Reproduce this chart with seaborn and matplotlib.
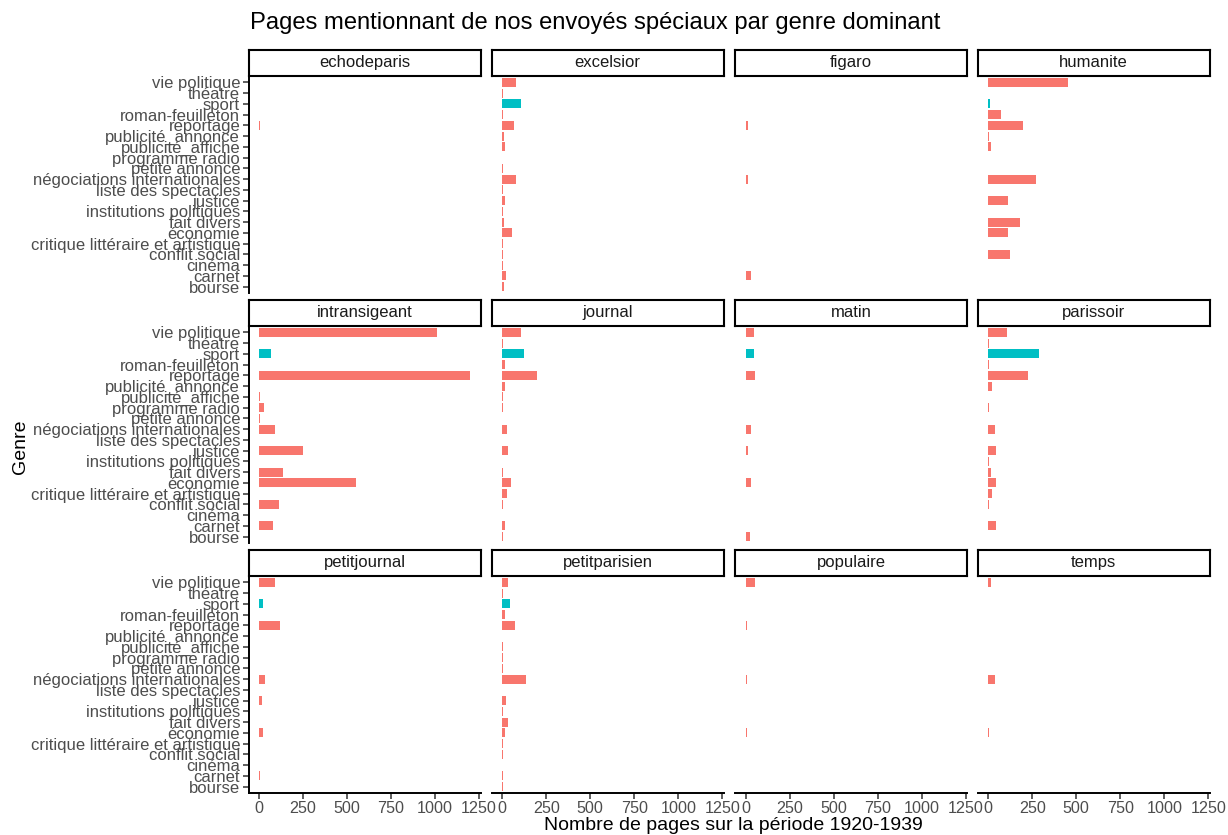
import pandas as pd
import seaborn as sns
import matplotlib.pyplot as plt

sns.set_theme(style='white')
plt.rcParams['font.family'] = ['Liberation Sans', 'DejaVu Sans']

# genres, de haut en bas
genres = ['vie politique', 'théatre', 'sport', 'roman-feuilleton', 'reportage',
          'publicité_annonce', 'publicité_affiche', 'programme radio', 'petite annonce',
          'négociations internationales', 'liste des spectacles', 'justice',
          'institutions politiques', 'fait divers', 'économie',
          'critique littéraire et artistique', 'conflit social', 'cinéma', 'carnet', 'bourse']

journaux = ['echodeparis', 'excelsior', 'figaro', 'humanite',
            'intransigeant', 'journal', 'matin', 'parissoir',
            'petitjournal', 'petitparisien', 'populaire', 'temps']

# nombre de pages par genre (même ordre que genres)
echodeparis = [0, 0, 0, 0, 3, 0, 0, 0, 0, 0, 0, 0, 0, 0, 0, 0, 0, 0, 0, 0]
excelsior = [78, 2, 108, 3, 67, 11, 17, 0, 2, 78, 2, 17, 2, 10, 54, 3, 2, 2, 24, 8]
figaro = [3, 3, 0, 0, 12, 0, 0, 0, 0, 12, 0, 0, 0, 0, 3, 3, 0, 0, 30, 3]
humanite = [452, 0, 9, 75, 195, 3, 16, 0, 0, 270, 0, 114, 0, 182, 114, 0, 123, 0, 0, 0]
intransigeant = [1010, 0, 68, 0, 1198, 0, 5, 28, 3, 89, 0, 251, 0, 136, 550, 0, 114, 0, 82, 0]
journal = [108, 3, 124, 13, 198, 13, 3, 3, 0, 27, 0, 34, 0, 4, 47, 27, 3, 0, 13, 3]
matin = [45, 0, 45, 3, 52, 3, 0, 0, 0, 30, 3, 14, 3, 3, 30, 3, 3, 0, 3, 23]
parissoir = [107, 3, 286, 3, 225, 23, 0, 4, 0, 39, 0, 45, 3, 16, 45, 23, 5, 0, 45, 0]
petitjournal = [88, 0, 23, 0, 117, 0, 0, 0, 0, 36, 0, 16, 0, 0, 23, 0, 0, 0, 5, 0]
petitparisien = [34, 3, 43, 13, 70, 0, 3, 3, 3, 137, 0, 20, 3, 34, 13, 3, 3, 0, 3, 3]
populaire = [52, 0, 0, 3, 10, 3, 0, 0, 0, 10, 3, 3, 0, 3, 10, 0, 0, 0, 3, 0]
temps = [16, 0, 0, 0, 0, 0, 0, 0, 0, 39, 0, 0, 0, 0, 4, 0, 0, 0, 0, 0]

pages = {'echodeparis': echodeparis, 'excelsior': excelsior, 'figaro': figaro,
         'humanite': humanite, 'intransigeant': intransigeant, 'journal': journal,
         'matin': matin, 'parissoir': parissoir, 'petitjournal': petitjournal,
         'petitparisien': petitparisien, 'populaire': populaire, 'temps': temps}

rows = []
for j in journaux:
    for g, v in zip(genres, pages[j]):
        rows.append({'journal': j, 'genre': g, 'pages': v})
df = pd.DataFrame(rows)

palette = {g: ('#00BFC4' if g == 'sport' else '#F8766D') for g in genres}

W, H = 1228, 835
fig = plt.figure(figsize=(W / 100, H / 100), dpi=100)

col_left = [248.5, 491.7, 735.1, 977.7]
row_top = [49.5, 299.5, 549.5]
pw, ph, sh = 232, 217, 26.5
xmax = df['pages'].max()

for i, j in enumerate(journaux):
    r, c = divmod(i, 4)
    x0 = col_left[c]
    y_panel = row_top[r] + sh
    ax = fig.add_axes([x0 / W, 1 - (y_panel + ph) / H, pw / W, ph / H])
    sns.barplot(data=df[df['journal'] == j], x='pages', y='genre', hue='genre',
                order=genres, hue_order=genres, palette=palette, dodge=False,
                legend=False, width=0.85, errorbar=None, linewidth=0, saturation=1,
                orient='h', ax=ax)
    ax.set_xlim(-0.05 * xmax, 1.05 * xmax)
    ax.set_ylim(len(genres) - 0.4, -0.6)
    ax.set_xlabel('')
    ax.set_ylabel('')
    ax.set_xticks([0, 250, 500, 750, 1000, 1250])
    for s in ax.spines.values():
        s.set_visible(False)
    if c == 0:
        ax.spines['left'].set_visible(True)
        ax.spines['left'].set_color('black')
        ax.spines['left'].set_linewidth(1.4)
        ax.tick_params(axis='y', left=True, length=4, width=1.1, color='#333333',
                       labelsize=12, labelcolor='#4D4D4D', pad=2)
    else:
        ax.tick_params(axis='y', left=False, labelleft=False)
    if r == 2:
        ax.spines['bottom'].set_visible(True)
        ax.spines['bottom'].set_color('black')
        ax.spines['bottom'].set_linewidth(1.4)
        ax.tick_params(axis='x', bottom=True, length=4, width=1.1, color='#333333',
                       labelsize=11.6, labelcolor='#4D4D4D', pad=2)
    else:
        ax.tick_params(axis='x', bottom=False, labelbottom=False)

    # bandeau du facet
    sax = fig.add_axes([x0 / W, 1 - (row_top[r] + sh) / H, pw / W, sh / H])
    sax.set_xticks([])
    sax.set_yticks([])
    for s in sax.spines.values():
        s.set_color('black')
        s.set_linewidth(1.5)
    sax.text(0.5, 0.5, j, ha='center', va='center', fontsize=12, color='#1A1A1A',
             transform=sax.transAxes)

fig.text(250 / W, 1 - 23 / H, 'Pages mentionnant de nos envoyés spéciaux par genre dominant',
         ha='left', va='center', fontsize=17.1, color='black')
fig.text(733 / W, 1 - 825 / H, 'Nombre de pages sur la période 1920-1939',
         ha='center', va='center', fontsize=14, color='black')
fig.text(20 / W, 1 - 447 / H, 'Genre', ha='center', va='center', rotation=90,
         fontsize=14, color='black')

fig.savefig('out.png', dpi=100)
